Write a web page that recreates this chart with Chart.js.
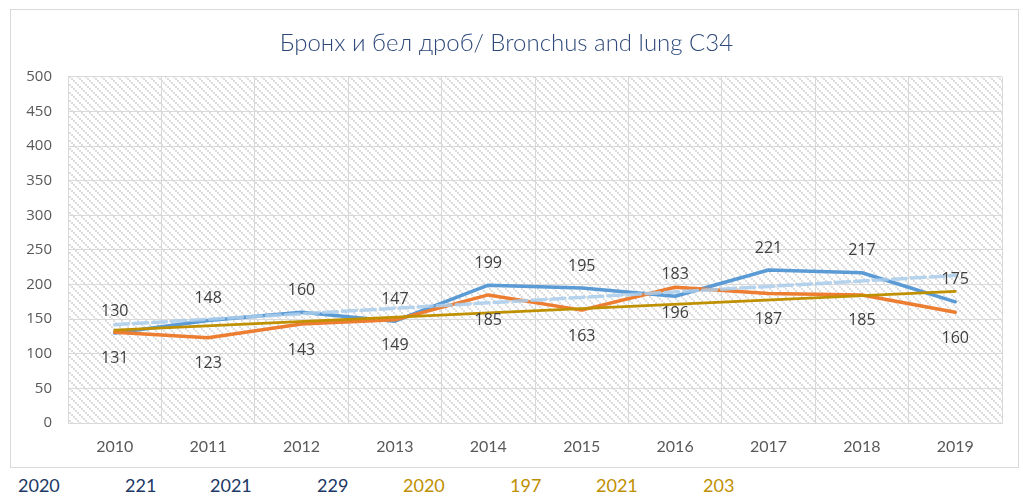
<!DOCTYPE html>
<html>
<head>
<meta charset="utf-8">
<script src="https://cdn.jsdelivr.net/npm/chart.js@4/dist/chart.umd.min.js"></script>
<style>
  body { margin: 0; background: #fff; width: 1023px; height: 498px; position: relative; overflow: hidden; }
  #box { position: absolute; left: 10px; top: 9px; width: 1007px; height: 457px; border: 1px solid #d9d9d9; }
  .note { position: absolute; top: 473px; font: 18px Lato, sans-serif; line-height: 24px; }
</style>
</head>
<body>
<div id="box"><canvas id="chart" width="1007" height="457"></canvas></div>
<div id="notes"></div>
<script>
// data
const years = ['2010', '2011', '2012', '2013', '2014', '2015', '2016', '2017', '2018', '2019'];
const seriesBlue = [130, 148, 160, 147, 199, 195, 183, 221, 217, 175];
const seriesOrange = [131, 123, 143, 149, 185, 163, 196, 187, 185, 160];
// linear trend lines, only the end points are given
const trendBlue = [142, null, null, null, null, null, null, null, null, 213];
const trendGold = [134, null, null, null, null, null, null, null, null, 190];
const yMin = 0, yMax = 500, yStep = 50;
const noteTexts = ['2020', '221', '2021', '229', '2020', '197', '2021', '203'];
const noteLeft = [18, 125, 210, 317, 403, 510, 596, 703];
const noteColors = ['#203864', '#203864', '#203864', '#203864', '#bf9000', '#bf9000', '#bf9000', '#bf9000'];

const notes = document.getElementById('notes');
noteTexts.forEach((t, i) => {
  const s = document.createElement('span');
  s.className = 'note';
  s.textContent = t;
  s.style.left = noteLeft[i] + 'px';
  s.style.color = noteColors[i];
  notes.appendChild(s);
});

// hatch pattern for the plot area
const pc = document.createElement('canvas');
pc.width = 8; pc.height = 8;
const px = pc.getContext('2d');
px.fillStyle = '#fff';
px.fillRect(0, 0, 8, 8);
px.fillStyle = '#dddddd';
for (let k = 0; k < 4; k++) px.fillRect(2 * k, 2 * k, 2, 2);

const plotBg = {
  id: 'plotBg',
  beforeDraw(chart) {
    const { ctx, chartArea: a } = chart;
    ctx.save();
    ctx.fillStyle = ctx.createPattern(pc, 'repeat');
    ctx.fillRect(a.left, a.top, a.right - a.left, a.bottom - a.top);
    ctx.restore();
  }
};

// value labels, blue above the line and orange below
const valueLabels = {
  id: 'valueLabels',
  afterDatasetsDraw(chart) {
    const ctx = chart.ctx;
    ctx.save();
    ctx.font = '16px "Open Sans"';
    ctx.fillStyle = '#404040';
    ctx.textAlign = 'center';
    ctx.textBaseline = 'middle';
    chart.data.datasets.forEach((ds, i) => {
      if (ds.labelOffset === undefined) return;
      chart.getDatasetMeta(i).data.forEach((pt, j) => {
        ctx.fillText(ds.data[j], pt.x, pt.y + ds.labelOffset);
      });
    });
    ctx.restore();
  }
};

const lineBase = { pointRadius: 0, borderWidth: 3.5, tension: 0, borderJoinStyle: 'round', borderCapStyle: 'round', fill: false };

new Chart(document.getElementById('chart'), {
  type: 'line',
  data: {
    labels: years,
    datasets: [
      { ...lineBase, data: trendGold, borderColor: '#bf9000', borderWidth: 2.75, spanGaps: true, order: 0 },
      { ...lineBase, data: trendBlue, borderColor: 'rgba(170,204,235,0.85)', borderDash: [14, 5], spanGaps: true, order: 1 },
      { ...lineBase, data: seriesOrange, borderColor: '#ed7d31', labelOffset: 26, order: 2 },
      { ...lineBase, data: seriesBlue, borderColor: '#5b9bd5', labelOffset: -22, order: 3 }
    ]
  },
  options: {
    responsive: false,
    animation: false,
    layout: { padding: { left: 0, right: 16, top: 0, bottom: 0 } },
    plugins: {
      legend: { display: false },
      tooltip: { enabled: false },
      title: {
        display: true,
        text: 'Бронх и бел дроб/ Bronchus and lung C34',
        color: '#2f4a7a',
        font: { family: 'Lato', size: 24, weight: '300' },
        padding: { top: 19, bottom: 19 }
      }
    },
    scales: {
      x: {
        offset: true,
        grid: { offset: true, color: '#d9d9d9', drawTicks: false },
        border: { color: '#d9d9d9' },
        ticks: { color: '#595959', font: { family: 'Lato', size: 16 }, padding: 14 },
        afterFit: s => { s.height = 44; }
      },
      y: {
        min: yMin, max: yMax,
        grid: { color: '#d9d9d9', drawTicks: false },
        border: { color: '#d9d9d9' },
        ticks: { stepSize: yStep, color: '#595959', font: { family: 'Open Sans', size: 15 }, padding: 16 },
        afterFit: s => { s.width = 57; }
      }
    }
  },
  plugins: [plotBg, valueLabels]
});
</script>
</body>
</html>
